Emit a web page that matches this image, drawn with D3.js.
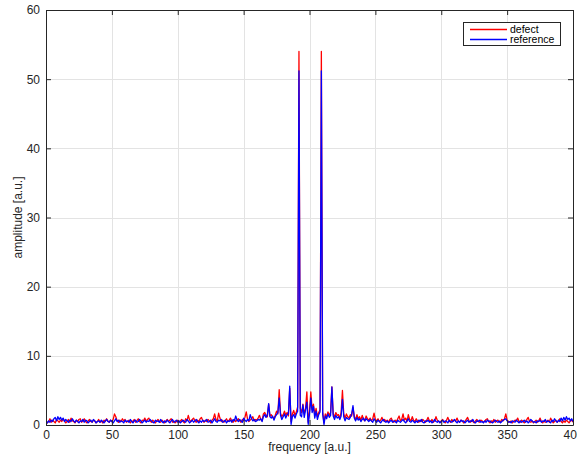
<!DOCTYPE html>
<html>
<head>
<meta charset="utf-8">
<script src="https://cdn.jsdelivr.net/npm/d3@7"></script>
<style>
  html, body { margin: 0; padding: 0; background: #fff; }
  svg { display: block; font-family: "Liberation Sans", Arial, Helvetica, sans-serif; }
</style>
</head>
<body>
<svg id="chart" width="577" height="454"></svg>
<script>
// Spectrum amplitudes sampled at integer frequencies 0..400
const defect = [
  0.6,0.3,0.5,0.9,0.4,0.7,0.5,0.3,0.8,0.6,0.4,0.7,0.5,0.9,0.6,0.3,0.5,0.8,0.4,1.0,
  0.6,0.5,0.3,0.7,0.5,0.8,0.9,0.4,0.6,0.9,0.5,0.3,0.6,0.8,0.5,0.4,0.7,0.6,0.3,0.5,
  0.8,0.4,0.6,0.3,0.7,0.5,0.9,0.6,0.4,0.7,0.5,0.8,1.6,1.2,0.6,0.4,0.7,0.5,0.9,0.6,
  0.8,0.4,0.5,0.7,0.3,0.6,0.5,0.8,0.4,0.6,0.9,0.5,0.3,0.7,0.6,1.0,0.5,0.8,1.0,0.6,
  0.4,0.7,0.5,0.3,0.6,0.8,0.5,0.4,0.7,0.5,0.3,0.6,0.8,0.5,0.7,0.9,0.4,0.6,0.3,0.5,
  0.7,0.4,0.6,0.8,0.5,0.3,0.9,0.6,1.4,0.7,0.5,0.8,1.0,0.6,0.4,0.7,0.5,0.9,1.1,0.6,
  0.4,0.7,0.5,0.8,0.6,0.3,0.7,0.9,1.6,0.8,0.6,1.7,1.0,0.5,0.7,0.4,0.6,0.9,0.5,0.7,
  1.0,0.6,0.4,0.8,0.5,0.7,0.9,0.6,0.4,0.8,0.6,1.1,1.9,0.8,0.5,0.7,0.9,1.2,0.6,0.8,
  0.7,1.0,1.4,0.8,0.6,1.6,1.8,1.4,1.2,3.0,1.3,1.5,1.1,0.9,1.4,2.0,1.6,5.1,1.7,1.2,
  1.5,2.0,1.4,1.8,1.3,5.3,0.5,1.6,2.1,1.4,1.9,2.6,54.0,2.4,1.8,3.0,1.6,2.4,4.8,0.4,
  2.0,4.8,2.2,3.0,1.5,2.4,1.2,1.8,2.2,54.0,1.9,0.3,1.6,1.2,1.9,1.4,1.8,5.5,1.6,1.2,
  1.8,1.4,1.5,1.0,1.8,5.0,1.6,1.0,1.6,1.2,1.0,1.5,1.3,2.5,1.2,0.8,1.5,0.9,1.2,0.7,
  1.4,0.8,0.6,1.3,0.9,0.7,1.0,0.6,0.9,1.7,0.8,0.6,0.9,0.5,0.7,1.1,0.6,0.8,0.5,0.7,
  0.4,0.8,1.0,0.6,0.4,0.7,0.5,0.9,1.3,0.6,0.8,1.6,0.7,1.0,0.5,1.5,0.8,0.6,1.2,0.7,
  0.5,0.9,0.6,0.4,0.7,0.5,0.8,0.6,0.4,0.7,1.1,0.6,0.5,0.8,0.4,0.6,1.2,0.7,0.5,0.4,
  0.6,0.8,0.5,0.3,0.7,1.1,0.6,0.4,0.8,0.5,0.7,0.6,1.0,0.5,0.4,0.7,0.6,0.3,0.5,0.8,
  1.1,0.6,0.4,0.7,0.5,0.3,0.6,0.8,0.5,0.4,0.7,0.6,0.4,0.5,0.8,0.9,0.5,0.3,0.6,0.5,
  0.8,0.4,0.6,0.7,0.4,0.5,0.8,0.6,0.9,1.6,0.7,0.5,0.4,0.6,0.3,0.5,0.7,0.6,1.0,0.5,
  0.4,0.7,0.5,0.3,0.6,0.8,1.1,0.5,0.4,0.6,0.3,0.5,0.7,0.4,0.6,1.0,0.5,0.3,0.6,0.4,
  0.5,0.7,0.4,1.0,0.6,0.3,0.5,0.7,0.4,0.6,0.9,0.5,0.3,0.6,0.4,0.7,0.5,0.3,0.6,0.7,
  0.4
];

const reference = [
  0.5,0.3,0.6,0.4,0.7,0.5,0.9,1.1,0.6,1.2,0.8,1.1,0.7,1.0,0.5,0.8,0.6,0.4,0.7,0.5,
  0.9,0.6,0.4,0.7,0.5,0.3,0.6,0.5,0.8,0.4,0.7,0.6,0.3,0.5,0.7,0.4,0.8,0.6,0.3,0.5,
  0.6,0.4,0.7,0.5,0.3,0.6,0.8,0.5,0.4,0.7,0.5,0.3,0.6,0.9,0.5,0.7,0.4,0.6,0.5,0.3,
  0.7,0.5,0.6,0.4,0.8,0.5,0.3,0.6,0.7,0.4,0.5,0.8,0.6,0.3,0.5,0.7,0.4,0.6,0.5,0.8,
  0.6,0.4,0.3,0.7,0.5,0.6,0.4,0.8,0.5,0.3,0.6,0.4,0.7,0.5,0.3,0.6,0.8,0.4,0.5,0.7,
  0.4,0.6,0.3,0.5,0.7,0.5,0.4,0.8,0.6,0.3,0.5,0.7,0.4,0.6,0.8,0.5,0.3,0.6,0.4,0.7,
  0.5,0.6,0.8,0.4,0.5,0.7,0.3,0.6,0.9,0.5,0.4,0.7,0.6,0.8,0.4,0.5,0.7,0.3,0.6,0.5,
  0.7,0.4,0.8,0.6,1.3,0.7,0.5,0.8,0.6,0.4,1.0,0.7,0.5,0.8,0.6,1.5,0.9,0.6,0.8,0.5,
  0.6,0.8,0.7,0.9,0.5,1.2,1.5,1.1,1.4,3.1,1.2,1.0,1.3,0.7,1.2,1.5,1.8,3.9,1.4,0.8,
  1.2,1.6,1.0,1.5,1.6,5.6,0.1,1.2,1.5,1.0,1.6,2.0,51.2,1.4,1.2,2.9,1.1,2.2,3.3,0.1,
  1.6,3.9,1.8,2.7,1.0,2.0,0.8,1.5,1.9,51.2,1.6,0.1,1.3,0.9,1.6,1.1,1.4,5.5,1.3,0.8,
  1.4,1.0,1.2,0.8,1.3,3.7,1.2,0.6,1.1,0.9,0.8,1.1,1.6,2.8,1.0,0.6,1.1,0.7,0.9,0.5,
  0.8,1.0,0.6,0.9,0.7,0.5,0.8,0.6,0.4,0.9,0.6,0.4,0.7,0.5,0.3,0.6,0.8,0.5,0.4,0.6,
  0.3,0.5,0.7,0.4,0.6,0.5,0.3,0.7,0.5,0.4,0.6,0.8,0.5,0.3,0.6,0.9,0.5,0.4,0.7,0.5,
  0.3,0.6,0.4,0.7,0.5,0.8,0.4,0.3,0.6,0.5,0.7,0.4,0.6,0.3,0.5,0.8,0.5,0.4,0.6,0.3,
  0.5,0.7,0.4,0.6,0.5,0.3,0.7,0.5,0.4,0.6,0.8,0.5,0.3,0.6,0.4,0.7,0.5,0.6,0.3,0.5,
  0.7,0.4,0.6,0.5,0.8,0.4,0.3,0.6,0.5,0.7,0.4,0.5,0.3,0.6,0.4,0.7,0.5,0.6,0.4,0.3,
  0.5,0.7,0.5,0.4,0.6,0.3,0.5,0.7,0.8,0.9,0.6,0.4,0.5,0.3,0.6,0.5,0.4,0.7,0.5,0.3,
  0.6,0.4,0.5,0.7,0.4,0.6,0.3,0.5,0.8,0.6,0.4,0.5,0.3,0.6,0.5,0.7,0.4,0.6,0.5,0.8,
  0.4,0.6,0.5,0.3,0.7,0.5,0.9,0.6,0.4,0.7,0.5,1.0,0.6,1.1,0.7,1.2,0.8,1.0,0.6,0.9,
  0.5
];

const xTicks = [0, 50, 100, 150, 200, 250, 300, 350, 400];
const yTicks = [0, 10, 20, 30, 40, 50, 60];
const seriesNames = ["defect", "reference"];
const seriesColors = ["#ff0000", "#0000ff"];

const svg = d3.select("#chart");
const plotLeft = 46, plotRight = 573, plotTop = 10, plotBottom = 425;
const axisColor = "#262626";

const x = d3.scaleLinear().domain([0, 400]).range([plotLeft, plotRight]);
const y = d3.scaleLinear().domain([0, 60]).range([plotBottom, plotTop]);

// grid
const grid = svg.append("g");
grid.selectAll(".gx").data(xTicks.slice(1, -1)).enter().append("line")
  .attr("x1", d => Math.round(x(d)) + 0.5).attr("x2", d => Math.round(x(d)) + 0.5)
  .attr("y1", plotTop).attr("y2", plotBottom)
  .attr("stroke", "#e3e3e3").attr("stroke-width", 1);
grid.selectAll(".gy").data(yTicks.slice(1, -1)).enter().append("line")
  .attr("y1", d => Math.round(y(d)) + 0.5).attr("y2", d => Math.round(y(d)) + 0.5)
  .attr("x1", plotLeft).attr("x2", plotRight)
  .attr("stroke", "#e3e3e3").attr("stroke-width", 1);

// data lines, clipped to plotting area
svg.append("clipPath").attr("id", "plotclip")
  .append("rect").attr("x", plotLeft).attr("y", plotTop)
  .attr("width", plotRight - plotLeft).attr("height", plotBottom - plotTop);

const line = d3.line().x((d, i) => x(i)).y(d => y(d));
const plot = svg.append("g").attr("clip-path", "url(#plotclip)");
[defect, reference].forEach((vals, k) => {
  plot.append("path").datum(vals)
    .attr("d", line)
    .attr("fill", "none")
    .attr("stroke", seriesColors[k])
    .attr("stroke-width", 1.3)
    .attr("stroke-linejoin", "round");
});

// axes (box with inward ticks on all four sides)
function styleAxis(g) {
  g.select(".domain").attr("stroke", axisColor);
  g.selectAll(".tick line").attr("stroke", axisColor);
  g.selectAll(".tick text").attr("fill", axisColor).attr("font-size", 12)
    .attr("font-family", "'Liberation Sans', Arial, sans-serif");
}
const xb = svg.append("g").attr("transform", `translate(0,${plotBottom})`)
  .call(d3.axisBottom(x).tickValues(xTicks).tickSizeInner(-5).tickSizeOuter(0).tickPadding(5));
styleAxis(xb);
const xt = svg.append("g").attr("transform", `translate(0,${plotTop})`)
  .call(d3.axisTop(x).tickValues(xTicks).tickSizeInner(-5).tickSizeOuter(0).tickFormat(""));
styleAxis(xt);
const yl = svg.append("g").attr("transform", `translate(${plotLeft},0)`)
  .call(d3.axisLeft(y).tickValues(yTicks).tickSizeInner(-5).tickSizeOuter(0).tickPadding(6));
styleAxis(yl);
const yr = svg.append("g").attr("transform", `translate(${plotRight},0)`)
  .call(d3.axisRight(y).tickValues(yTicks).tickSizeInner(-5).tickSizeOuter(0).tickFormat(""));
styleAxis(yr);

// axis labels
svg.append("text").attr("x", (plotLeft + plotRight) / 2).attr("y", 451)
  .attr("text-anchor", "middle").attr("font-size", 12).attr("fill", axisColor)
  .text("frequency [a.u.]");
svg.append("text").attr("transform", `translate(22,${(plotTop + plotBottom) / 2}) rotate(-90)`)
  .attr("text-anchor", "middle").attr("font-size", 12).attr("fill", axisColor)
  .text("amplitude [a.u.]");

// legend
const lg = svg.append("g");
lg.append("rect").attr("x", 463.5).attr("y", 22.5).attr("width", 97).attr("height", 23)
  .attr("fill", "#fff").attr("stroke", axisColor).attr("stroke-width", 1);
seriesNames.forEach((name, k) => {
  const yy = 29.5 + k * 10;
  lg.append("line").attr("x1", 470).attr("x2", 507).attr("y1", yy).attr("y2", yy)
    .attr("stroke", seriesColors[k]).attr("stroke-width", 1.3);
  lg.append("text").attr("x", 510).attr("y", yy + 3.8).attr("font-size", 10.5)
    .attr("fill", "#000").text(name);
});
</script>
</body>
</html>
